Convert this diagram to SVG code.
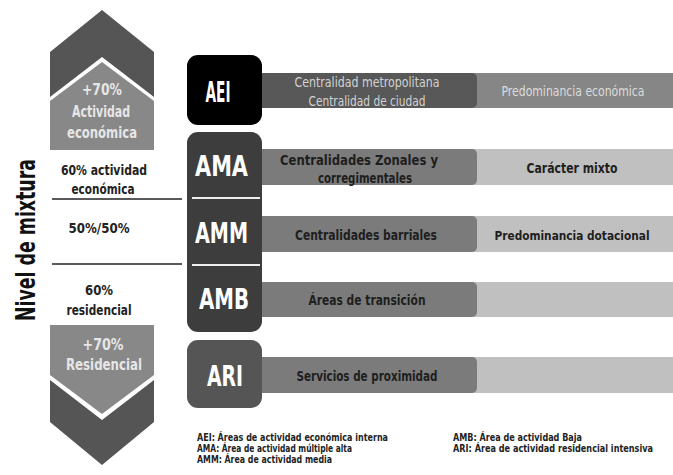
<svg xmlns="http://www.w3.org/2000/svg" width="673" height="475" viewBox="0 0 673 475">
<style>
text{font-family:"DejaVu Sans Condensed","Liberation Sans Narrow","Liberation Sans",sans-serif;font-weight:bold;text-anchor:middle;dominant-baseline:central}
.lt{fill:#e6e6e6;font-size:15px}
.lbl{fill:#222;font-size:14px}
.code{fill:#fff;font-size:28px}
.bt{fill:#1e1e1e;font-size:14px}
.bw{fill:#d2d2d2;font-size:14px;font-weight:normal}
.leg{fill:#222;font-size:10px;text-anchor:start}
</style>
<rect width="673" height="475" fill="#fff"/>
<g id="top-chevron">
<polygon points="50,52 102,10 154,52 154,97 102,57 50,97" fill="#555"/>
<polygon points="50,101 102,62 154,101 154,150 50,150" fill="#888"/>
<text class="lt" x="102" y="90" textLength="40" lengthAdjust="spacingAndGlyphs">+70%</text>
<text class="lt" x="101" y="112" textLength="58" lengthAdjust="spacingAndGlyphs">Actividad</text>
<text class="lt" x="102" y="133" textLength="70" lengthAdjust="spacingAndGlyphs">económica</text>
</g>
<g id="bottom-chevron">
<polygon points="50,325 154,325 154,375 102,414 50,375" fill="#888"/>
<polygon points="50,380 102,420 154,380 154,422 102,465 50,422" fill="#555"/>
<text class="lt" x="103" y="345" textLength="41" lengthAdjust="spacingAndGlyphs">+70%</text>
<text class="lt" x="104" y="365" textLength="76" lengthAdjust="spacingAndGlyphs">Residencial</text>
</g>
<g id="axis-label">
<text x="26" y="240" transform="rotate(-90 26 240)" style="font-size:26px;fill:#111" textLength="162" lengthAdjust="spacingAndGlyphs">Nivel de mixtura</text>
</g>
<g id="mix-levels">
<text class="lbl" x="104" y="170" textLength="86" lengthAdjust="spacingAndGlyphs">60% actividad</text>
<text class="lbl" x="103" y="189" textLength="63" lengthAdjust="spacingAndGlyphs">económica</text>
<text class="lbl" x="99" y="228" textLength="61" lengthAdjust="spacingAndGlyphs">50%/50%</text>
<text class="lbl" x="99" y="290" textLength="28" lengthAdjust="spacingAndGlyphs">60%</text>
<text class="lbl" x="99" y="310" textLength="65" lengthAdjust="spacingAndGlyphs">residencial</text>
</g>
<g id="AEI">
<rect x="262" y="73" width="411" height="35" fill="#868686"/>
<rect x="250" y="73" width="227" height="35" rx="5" fill="#585858"/>
<rect x="187" y="55" width="75" height="70" rx="11" fill="#000"/>
<text class="code" x="218" y="92" textLength="25" lengthAdjust="spacingAndGlyphs">AEI</text>
<text class="bw" x="367" y="82" textLength="145" lengthAdjust="spacingAndGlyphs">Centralidad metropolitana</text>
<text class="bw" x="367" y="101" textLength="117" lengthAdjust="spacingAndGlyphs">Centralidad de ciudad</text>
<text class="bw" x="573" y="91" style="fill:#dcdcdc" textLength="143" lengthAdjust="spacingAndGlyphs">Predominancia económica</text>
</g>
<g id="AMA">
<rect x="262" y="149" width="411" height="36" fill="#c0c0c0"/>
<rect x="250" y="149" width="227" height="36" rx="5" fill="#7b7b7b"/>
</g>
<g id="AMM">
<rect x="262" y="216" width="411" height="36" fill="#c0c0c0"/>
<rect x="250" y="216" width="227" height="36" rx="5" fill="#7b7b7b"/>
</g>
<g id="AMB">
<rect x="262" y="282" width="411" height="35" fill="#c0c0c0"/>
<rect x="250" y="282" width="227" height="35" rx="5" fill="#7b7b7b"/>
</g>
<g id="mixed-block">
<rect x="187" y="132" width="75" height="200" rx="11" fill="#3d3d3d"/>
<line x1="192" y1="198" x2="260" y2="198" stroke="#eee" stroke-width="2"/>
<line x1="192" y1="265" x2="260" y2="265" stroke="#eee" stroke-width="2"/>
<text class="code" x="221.5" y="166" textLength="53" lengthAdjust="spacingAndGlyphs">AMA</text>
<text class="code" x="221.5" y="233" textLength="53" lengthAdjust="spacingAndGlyphs">AMM</text>
<text class="code" x="224" y="299" textLength="50" lengthAdjust="spacingAndGlyphs">AMB</text>
<text class="bt" x="359" y="160" textLength="158" lengthAdjust="spacingAndGlyphs">Centralidades Zonales y</text>
<text class="bt" x="365" y="178" textLength="94" lengthAdjust="spacingAndGlyphs">corregimentales</text>
<text class="bt" x="572" y="168" textLength="91" lengthAdjust="spacingAndGlyphs">Carácter mixto</text>
<text class="bt" x="366" y="235" textLength="142" lengthAdjust="spacingAndGlyphs">Centralidades barriales</text>
<text class="bt" x="572" y="235" style="font-size:13px" textLength="155" lengthAdjust="spacingAndGlyphs">Predominancia dotacional</text>
<text class="bt" x="367" y="300" textLength="117" lengthAdjust="spacingAndGlyphs">Áreas de transición</text>
</g>
<g id="ARI">
<rect x="262" y="357" width="411" height="36" fill="#c0c0c0"/>
<rect x="250" y="357" width="227" height="36" rx="5" fill="#7b7b7b"/>
<rect x="187" y="340" width="75" height="68" rx="11" fill="#555"/>
<text class="code" x="225" y="376" textLength="36" lengthAdjust="spacingAndGlyphs">ARI</text>
<text class="bt" x="367" y="376" textLength="141" lengthAdjust="spacingAndGlyphs">Servicios de proximidad</text>
</g>
<g id="connectors">
<line x1="52" y1="199" x2="182" y2="199" stroke="#222" stroke-width="1.5"/>
<line x1="52" y1="264" x2="182" y2="264" stroke="#222" stroke-width="1.5"/>
</g>
<g id="legend">
<text class="leg" x="197" y="437" textLength="191" lengthAdjust="spacingAndGlyphs">AEI: Áreas de actividad económica interna</text>
<text class="leg" x="197" y="448" textLength="155" lengthAdjust="spacingAndGlyphs">AMA: Área de actividad múltiple alta</text>
<text class="leg" x="197" y="459" textLength="135" lengthAdjust="spacingAndGlyphs">AMM: Área de actividad media</text>
<text class="leg" x="453" y="437" textLength="129" lengthAdjust="spacingAndGlyphs">AMB: Área de actividad Baja</text>
<text class="leg" x="453" y="448" textLength="200" lengthAdjust="spacingAndGlyphs">ARI: Área de actividad residencial intensiva</text>
</g>
</svg>
